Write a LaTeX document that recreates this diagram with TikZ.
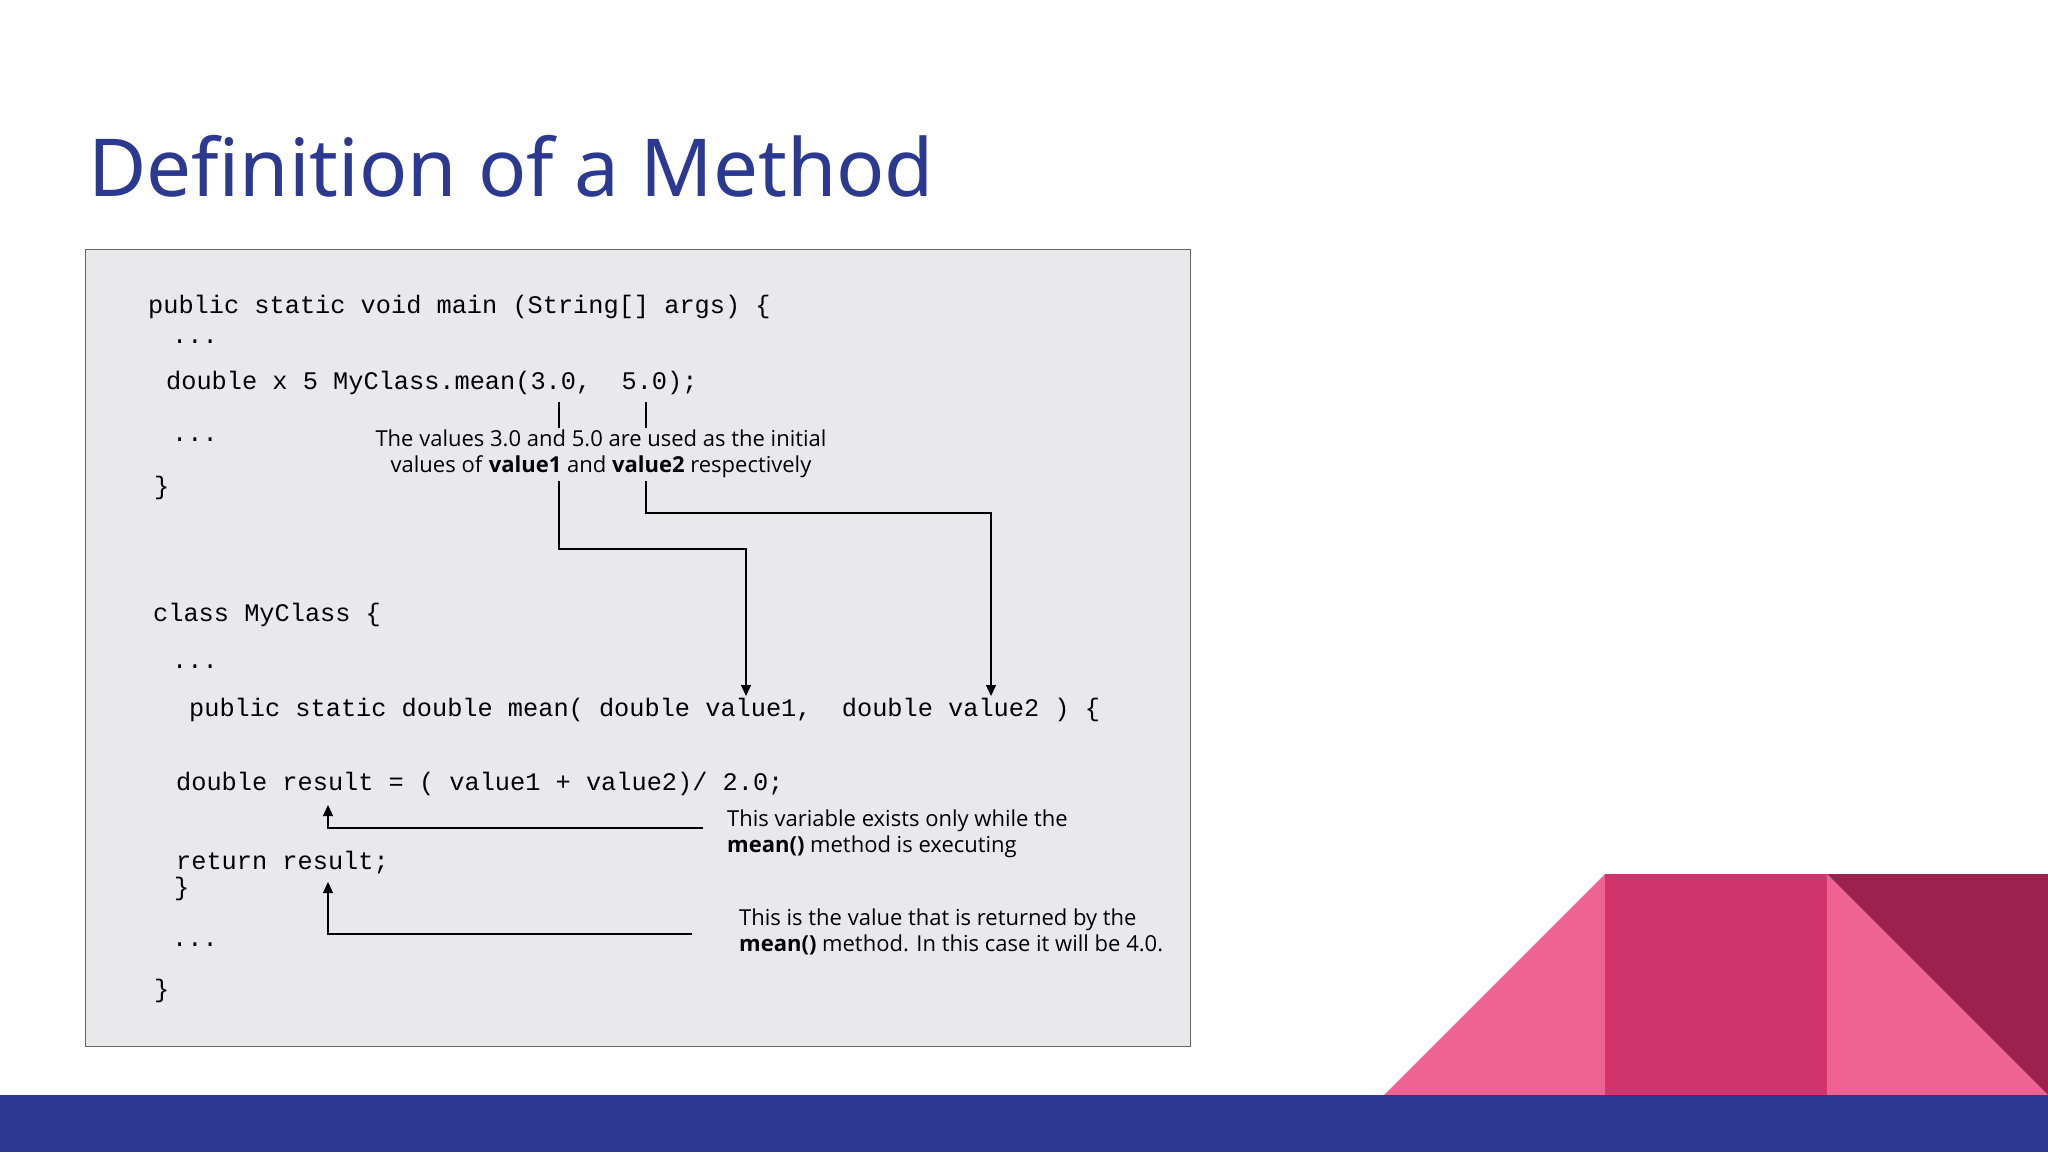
\documentclass[tikz,border=0pt]{standalone}
\usepackage{fontspec}
\setmainfont{Noto Sans}
\newfontfamily\codefont{Liberation Mono}
\newfontfamily\notefont{Open Sans}
\usetikzlibrary{arrows.meta}
\definecolor{navy}{HTML}{2B3990}
\definecolor{pinkA}{HTML}{EF6393}
\definecolor{pinkB}{HTML}{D1336B}
\definecolor{pinkC}{HTML}{9C224D}
\definecolor{boxbg}{HTML}{E9E8EB}
\begin{document}
\begin{tikzpicture}[x=1pt,y=-1pt,
  code/.style={anchor=base west,inner sep=0pt,font=\codefont\fontsize{25.3}{25}\selectfont},
  note/.style={inner sep=0pt,font=\notefont\fontsize{22}{26}\selectfont,align=left},
  conn/.style={line width=1.3pt},
  arr/.style={conn,-{Triangle[length=11pt,width=10pt]}}]
\useasboundingbox (0,0) rectangle (2048,1152);
\fill[white] (0,0) rectangle (2048,1152);
% decoration
\fill[pinkA] (1384,1095) -- (1605,874) -- (1605,1095) -- cycle;
\fill[pinkB] (1605,874) rectangle (1827,1095);
\fill[pinkA] (1827,874) -- (2048,1095) -- (1827,1095) -- cycle;
\fill[pinkC] (1827,874) -- (2048,874) -- (2048,1095) -- cycle;
\fill[navy] (0,1095) rectangle (2048,1152);
% title
\node[anchor=base west,inner sep=0pt,text=navy,font=\fontsize{80}{80}\selectfont] (title) at (88,196) {Definition of a Method};
% box
\node[draw=gray!80!black,line width=1pt,fill=boxbg,minimum width=1105pt,minimum height=797pt,anchor=north west,inner sep=0pt] (box) at (85,249) {};
% code
\node[code] (c1) at (148,313) {public static void main (String[] args) \{};
\node[code] (c2) at (172,343) {...};
\node[code] (c3) at (166,389) {double x 5 MyClass.mean(3.0,\ \ 5.0);};
\node[code] (c4) at (172,441) {...};
\node[code] (c5) at (154,494) {\}};
\node[code] (c6) at (153,621) {class MyClass \{};
\node[code] (c7) at (172,668) {...};
\node[code] (c8) at (189,716) {public static double mean( double value1,\ \ double value2 ) \{};
\node[code] (c9) at (176,790) {double result = ( value1 + value2)/ 2.0;};
\node[code] (c10) at (176,869) {return result;};
\node[code] (c11) at (174,895) {\}};
\node[code] (c12) at (172,946) {...};
\node[code] (c13) at (154,997) {\}};
% notes
\node[note,align=center] (n1) at (601,454) {The values 3.0 and 5.0 are used as the initial\\values of \textbf{value1} and \textbf{value2} respectively};
\node[note,anchor=west] (n2) at (727,834) {This variable exists only while the\\\textbf{mean()} method is executing};
\node[note,anchor=west] (n3) at (739,932) {This is the value that is returned by the\\\textbf{mean()} method. In this case it will be 4.0.};
% connectors
\coordinate (a1) at (559,402); \coordinate (a2) at (559,428);
\coordinate (b1) at (646,402); \coordinate (b2) at (646,428);
\draw[conn] (a1) -- (a2);
\draw[conn] (b1) -- (b2);
\coordinate (a3) at (559,481); \coordinate (a4) at (746,696);
\coordinate (b3) at (646,481); \coordinate (b4) at (991,696);
\draw[arr] (a3) |- (746,549) -- (a4);
\draw[arr] (b3) |- (991,513) -- (b4);
\coordinate (r1) at (703,828); \coordinate (r2) at (328,805);
\coordinate (s1) at (692,934); \coordinate (s2) at (328,882);
\draw[arr] (r1) -| (r2);
\draw[arr] (s1) -| (s2);
\end{tikzpicture}
\end{document}
